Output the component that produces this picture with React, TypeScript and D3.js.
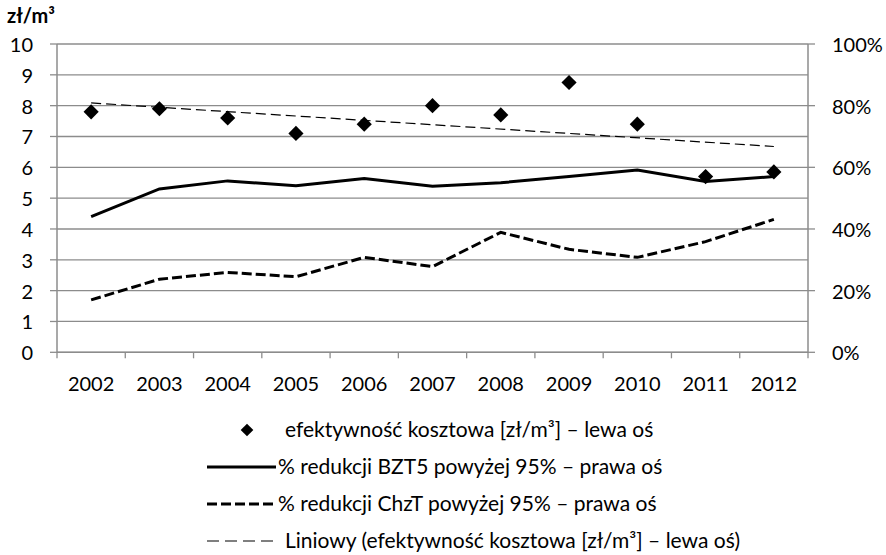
import React from "react";
import * as d3 from "d3";

const years = ["2002","2003","2004","2005","2006","2007","2008","2009","2010","2011","2012"];
const costEff = [7.8, 7.9, 7.6, 7.1, 7.4, 8.0, 7.7, 8.75, 7.4, 5.7, 5.85];
const bzt5 = [0.44, 0.53, 0.556, 0.54, 0.564, 0.539, 0.55, 0.57, 0.591, 0.554, 0.57];
const chzt = [0.17, 0.237, 0.259, 0.245, 0.308, 0.278, 0.389, 0.334, 0.308, 0.359, 0.431];
const leftTicks = [0,1,2,3,4,5,6,7,8,9,10];
const rightTicks = [0,0.2,0.4,0.6,0.8,1.0];
const legendLabels = [
  "efektywność kosztowa [zł/m³] – lewa oś",
  "% redukcji BZT5 powyżej 95% – prawa oś",
  "% redukcji ChzT powyżej 95% – prawa oś",
  "Liniowy (efektywność kosztowa [zł/m³] – lewa oś)",
];
const leftTitle = "zł/m³";

const W = 886, H = 555;
const L = 57, R = 808, T = 44, B = 352.3;
const FONT = "Lato, 'Open Sans', sans-serif";
const GRID = "#8c8c8c";

export default function App() {
  const x = d3.scaleBand<string>().domain(years).range([L, R]).padding(0);
  const cx = (y: string) => (x(y) as number) + x.bandwidth() / 2;
  const yL = d3.scaleLinear().domain([0, 10]).range([B, T]);
  const yR = d3.scaleLinear().domain([0, 1]).range([B, T]);

  const lineR = d3.line<number>().x((_, i) => cx(years[i])).y((v) => yR(v));

  // linear trendline (least squares) over cost efficiency
  const n = costEff.length;
  const xm = (n - 1) / 2;
  const ym = d3.mean(costEff) as number;
  let sxy = 0, sxx = 0;
  costEff.forEach((v, i) => { sxy += (i - xm) * (v - ym); sxx += (i - xm) * (i - xm); });
  const slope = sxy / sxx;
  const icpt = ym - slope * xm;
  const trend = [icpt, icpt + slope * (n - 1)];
  const trendPath = d3.line<number>().x((_, i) => cx(years[i === 0 ? 0 : n - 1])).y((v) => yL(v))(trend);

  const diamond = d3.symbol().type(d3.symbolSquare).size(115)();
  const diamondLeg = d3.symbol().type(d3.symbolSquare).size(80)();

  const legBase = [437, 474, 511, 548];

  return (
    <svg width={W} height={H} style={{ position: "absolute", left: 0, top: 0, background: "#fff" }} fontFamily={FONT}>
      <rect x={0} y={0} width={W} height={H} fill="#fff" />
      {/* gridlines */}
      {leftTicks.map((t) => (
        <line key={"g" + t} x1={L} x2={R} y1={yL(t)} y2={yL(t)} stroke={GRID} strokeWidth={1.3} />
      ))}
      {/* axes */}
      <line x1={L} x2={L} y1={T} y2={B} stroke={GRID} strokeWidth={1.5} />
      <line x1={R} x2={R} y1={T} y2={B} stroke={GRID} strokeWidth={1.5} />
      <line x1={L} x2={R} y1={B} y2={B} stroke={GRID} strokeWidth={1.5} />
      {leftTicks.map((t) => (
        <g key={"lt" + t}>
          <line x1={L - 7} x2={L} y1={yL(t)} y2={yL(t)} stroke={GRID} strokeWidth={1.3} />
          <text x={33} y={yL(t)} textAnchor="end" dominantBaseline="central" fontSize={20} fill="#000">{t}</text>
        </g>
      ))}
      {rightTicks.map((t) => (
        <g key={"rt" + t}>
          <line x1={R} x2={R + 7} y1={yR(t)} y2={yR(t)} stroke={GRID} strokeWidth={1.3} />
          <text x={832} y={yR(t)} textAnchor="start" dominantBaseline="central" fontSize={20} fill="#000">{d3.format(".0%")(t)}</text>
        </g>
      ))}
      {years.map((yy, i) => (
        <line key={"xt" + i} x1={x(yy) as number} x2={x(yy) as number} y1={B} y2={B + 6} stroke={GRID} strokeWidth={1.3} />
      ))}
      <line x1={R} x2={R} y1={B} y2={B + 6} stroke={GRID} strokeWidth={1.3} />
      {years.map((yy) => (
        <text key={"xl" + yy} x={cx(yy)} y={391} textAnchor="middle" fontSize={20} fill="#000">{yy}</text>
      ))}
      <text x={7} y={23} fontSize={20} fontWeight="bold" fill="#000">{leftTitle}</text>

      {/* series */}
      <path d={trendPath || ""} fill="none" stroke="#000" strokeWidth={1.2} strokeDasharray="10,5" />
      <path d={lineR(chzt) || ""} fill="none" stroke="#000" strokeWidth={3} strokeDasharray="10,4" />
      <path d={lineR(bzt5) || ""} fill="none" stroke="#000" strokeWidth={3} />
      {costEff.map((v, i) => (
        <path key={"d" + i} d={diamond || ""} transform={`translate(${cx(years[i])},${yL(v)}) rotate(45)`} fill="#000" />
      ))}

      {/* legend */}
      <path d={diamondLeg || ""} transform={`translate(247,${legBase[0] - 7}) rotate(45)`} fill="#000" />
      <line x1={207} x2={276} y1={legBase[1] - 7} y2={legBase[1] - 7} stroke="#000" strokeWidth={3} />
      <line x1={207} x2={276} y1={legBase[2] - 7} y2={legBase[2] - 7} stroke="#000" strokeWidth={3} strokeDasharray="10,4" />
      <line x1={207} x2={278} y1={legBase[3] - 7} y2={legBase[3] - 7} stroke="#000" strokeWidth={1.2} strokeDasharray="12,6" />
      {legendLabels.map((lab, i) => (
        <text key={"lg" + i} x={i === 0 || i === 3 ? 285 : 278} y={legBase[i]} fontSize={21} fill="#000">{lab}</text>
      ))}
    </svg>
  );
}
